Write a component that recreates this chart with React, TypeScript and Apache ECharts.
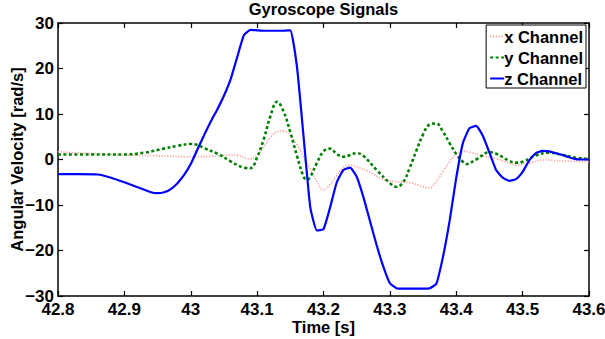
import React, { useEffect, useRef } from "react";
import * as echarts from "echarts";

// Gyroscope readings: [time (s), angular velocity (rad/s)]
const xChannel: [number, number][] = [
  [42.8, 1.7], [42.85, 1.3], [42.9, 1.0], [42.95, 0.8], [43.0, 0.6], [43.03, 0.7],
  [43.06, 1.0], [43.07, 0.9], [43.09, 0.1], [43.1, 1.0], [43.11, 2.8], [43.12, 4.8],
  [43.13, 6.1], [43.14, 6.3], [43.15, 5.2], [43.16, 3.4], [43.17, 0.5], [43.18, -2.0],
  [43.19, -4.8], [43.2, -6.7], [43.21, -5.5], [43.22, -3.5], [43.23, -1.8], [43.24, -1.2],
  [43.25, -1.6], [43.27, -2.8], [43.29, -4.4], [43.31, -4.9], [43.33, -5.1], [43.35, -6.0],
  [43.36, -6.2], [43.37, -4.8], [43.38, -2.6], [43.39, -0.5], [43.4, 1.2], [43.41, 1.8],
  [43.42, 1.6], [43.44, 0.8], [43.46, 0.2], [43.48, -0.8], [43.49, -1.2], [43.51, -0.8],
  [43.53, -0.1], [43.56, -0.3], [43.6, -0.5],
];

const yChannel: [number, number][] = [
  [42.8, 1.1], [42.85, 1.1], [42.9, 1.1], [42.93, 1.5], [42.96, 2.4], [42.98, 3.0],
  [43.0, 3.4], [43.01, 3.2], [43.02, 2.5], [43.04, 1.3], [43.06, -0.4], [43.07, -1.2],
  [43.08, -1.8], [43.09, -1.9], [43.1, 0.5], [43.11, 4.5], [43.12, 9.5], [43.13, 12.7],
  [43.14, 10.5], [43.15, 6.0], [43.16, 0.8], [43.17, -3.8], [43.175, -4.5], [43.18, -3.8],
  [43.19, -0.8], [43.2, 1.8], [43.21, 2.4], [43.22, 1.2], [43.23, 0.6], [43.25, 1.4],
  [43.26, 0.8], [43.28, -2.3], [43.3, -5.2], [43.31, -6.0], [43.32, -5.0], [43.33, -1.8],
  [43.34, 2.0], [43.35, 5.5], [43.36, 7.7], [43.37, 7.9], [43.38, 6.1], [43.39, 3.6],
  [43.4, 1.2], [43.41, -0.5], [43.415, -1.0], [43.43, 0.0], [43.45, 1.6], [43.46, 1.3],
  [43.48, -0.3], [43.49, -0.7], [43.5, -0.5], [43.52, 0.9], [43.54, 1.5], [43.56, 1.0],
  [43.58, 0.4], [43.6, 0.1],
];

const zChannel: [number, number][] = [
  [42.8, -3.2], [42.83, -3.2], [42.86, -3.3], [42.88, -4.0], [42.9, -5.0], [42.92, -6.1],
  [42.94, -7.2], [42.95, -7.4], [42.96, -7.2], [42.97, -6.5], [42.98, -5.2], [42.99, -3.4],
  [43.0, -1.0], [43.01, 2.2], [43.02, 5.3], [43.03, 8.3], [43.04, 11.0], [43.05, 14.0],
  [43.06, 17.6], [43.07, 22.5], [43.08, 27.3], [43.09, 28.5], [43.1, 28.4], [43.11, 28.3],
  [43.12, 28.3], [43.13, 28.3], [43.14, 28.3], [43.15, 28.4], [43.16, 20.4], [43.17, 5.0],
  [43.18, -10.4], [43.19, -15.6], [43.2, -15.3], [43.21, -10.5], [43.22, -5.0], [43.23, -2.3],
  [43.24, -1.8], [43.25, -3.8], [43.26, -8.2], [43.27, -13.5], [43.28, -18.8], [43.29, -23.5],
  [43.3, -27.2], [43.31, -28.3], [43.32, -28.4], [43.33, -28.4], [43.34, -28.4], [43.35, -28.4],
  [43.36, -28.3], [43.37, -27.3], [43.38, -21.4], [43.39, -13.5], [43.4, -4.0], [43.41, 3.6],
  [43.42, 6.9], [43.43, 7.4], [43.44, 5.2], [43.45, 1.5], [43.46, -2.3], [43.47, -4.0],
  [43.48, -4.7], [43.49, -4.3], [43.5, -2.7], [43.51, -0.2], [43.52, 1.4], [43.53, 1.9],
  [43.54, 1.8], [43.55, 1.4], [43.56, 1.0], [43.57, 0.5], [43.58, 0.1], [43.59, 0.0],
  [43.6, 0.0],
];

const seriesNames = ["x Channel", "y Channel", "z Channel"];
const timeRange = [42.8, 43.6];
const velocityRange = [-30, 30];

const FONT = "'Liberation Sans', Arial, Helvetica, sans-serif";

export default function App() {
  const ref = useRef<HTMLDivElement>(null);

  useEffect(() => {
    if (!ref.current) return;
    const chart = echarts.init(ref.current, null, { renderer: "svg" });

    const axisLine = { show: true, onZero: false, lineStyle: { color: "#000", width: 1.5 } };
    const tick = { show: true, inside: true, length: 5, lineStyle: { color: "#000", width: 1.2 } };
    const tickLabel = {
      color: "#000",
      fontFamily: FONT,
      fontWeight: "bold" as const,
      fontSize: 17,
      lineHeight: 15,
    };
    const nameStyle = { color: "#000", fontFamily: FONT, fontWeight: "bold" as const, fontSize: 16.5 };

    chart.setOption({
      animation: false,
      backgroundColor: "#fff",
      textStyle: { fontFamily: FONT },
      grid: { left: 58, right: 16, top: 23, bottom: 43, outerBoundsMode: "none" },
      graphic: [
        {
          type: "text",
          x: 323.5,
          y: 0,
          style: {
            text: "Gyroscope Signals",
            textAlign: "center",
            textVerticalAlign: "top",
            fontFamily: FONT,
            fontWeight: "bold",
            fontSize: 16.5,
            fill: "#000",
          },
        },
      ],
      legend: {
        data: seriesNames,
        orient: "vertical",
        right: 19,
        top: 25,
        padding: [3, 3, 1, 3],
        itemGap: 4,
        itemWidth: 14,
        itemHeight: 14,
        backgroundColor: "#fff",
        borderColor: "#000",
        borderWidth: 1,
        borderRadius: 0,
        itemStyle: { opacity: 0 },
        textStyle: {
          color: "#000",
          fontFamily: FONT,
          fontWeight: "bold",
          fontSize: 16.5,
          lineHeight: 17,
          padding: [0, 0, 0, -5],
        },
      },
      xAxis: [
        {
          type: "value",
          min: timeRange[0],
          max: timeRange[1],
          interval: 0.1,
          name: "Time [s]",
          nameLocation: "middle",
          nameGap: 22,
          nameMoveOverlap: false,
          nameTextStyle: nameStyle,
          axisLine,
          axisTick: tick,
          axisLabel: { ...tickLabel, margin: 6 },
          splitLine: { show: false },
        },
        {
          type: "value",
          position: "top",
          min: timeRange[0],
          max: timeRange[1],
          interval: 0.1,
          axisLine,
          axisTick: tick,
          axisLabel: { show: false },
          splitLine: { show: false },
        },
      ],
      yAxis: [
        {
          type: "value",
          min: velocityRange[0],
          max: velocityRange[1],
          interval: 10,
          name: "Angular Velocity [rad/s]",
          nameLocation: "middle",
          nameGap: 33,
          nameMoveOverlap: false,
          nameTextStyle: nameStyle,
          axisLine,
          axisTick: tick,
          axisLabel: {
            ...tickLabel,
            margin: 4,
            formatter: (v: number) => String(v).replace("-", "\u2212"),
          },
          splitLine: { show: false },
        },
        {
          type: "value",
          position: "right",
          min: velocityRange[0],
          max: velocityRange[1],
          interval: 10,
          axisLine,
          axisTick: tick,
          axisLabel: { show: false },
          splitLine: { show: false },
        },
      ],
      series: [
        {
          name: seriesNames[0],
          type: "line",
          data: xChannel,
          smooth: 0.4,
          symbol: "none",
          lineStyle: { color: "#ff9a9a", width: 1.6, type: [1.2, 1.6] },
          itemStyle: { color: "#ff9a9a" },
          z: 2,
        },
        {
          name: seriesNames[1],
          type: "line",
          data: yChannel,
          smooth: 0.4,
          symbol: "none",
          lineStyle: { color: "#008000", width: 2.6, type: [3, 2.5] },
          itemStyle: { color: "#008000" },
          z: 3,
        },
        {
          name: seriesNames[2],
          type: "line",
          data: zChannel,
          smooth: 0.15,
          symbol: "none",
          lineStyle: { color: "#0000ff", width: 2.2 },
          itemStyle: { color: "#0000ff" },
          z: 4,
        },
      ],
    });

    return () => chart.dispose();
  }, []);

  return (
    <div
      ref={ref}
      style={{ position: "fixed", left: 0, top: 0, width: 605, height: 339, background: "#fff" }}
    />
  );
}
